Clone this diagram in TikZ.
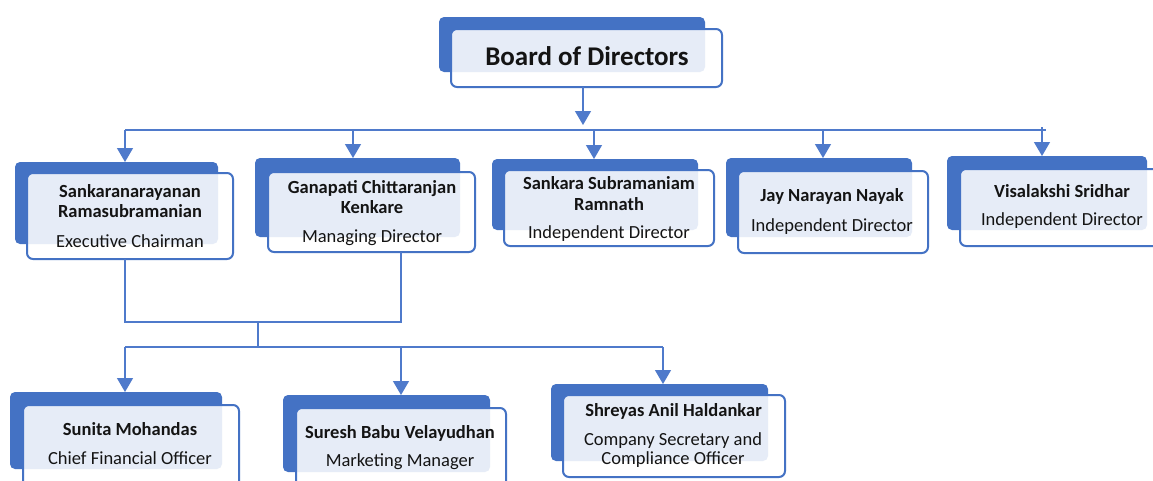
\documentclass[tikz,border=0pt]{standalone}
\usepackage{fontspec}
\setmainfont{Carlito}
\usetikzlibrary{arrows.meta}
\definecolor{obl}{HTML}{4472C4}
\definecolor{cbl}{HTML}{4F7ACB}
\definecolor{txt}{HTML}{141414}
\newcommand\obox[9]{%
  \node[backbox, minimum width={(#4)-(#2)}, minimum height={(#5)-(#3)}, anchor=north west] (#1b) at (#2,#3) {};
  \node[frontbox, minimum width={(#8)-(#6)}, minimum height={(#9)-(#7)}, anchor=north west] (#1) at (#6,#7) {};
}
\begin{document}
\begin{tikzpicture}[x=1pt,y=-1pt,
 backbox/.style={fill=obl, rounded corners=5pt, inner sep=0pt, outer sep=0pt},
 frontbox/.style={draw=obl, line width=2pt, fill=white, fill opacity=0.87, rounded corners=6pt, inner sep=0pt, outer sep=0pt},
 nm/.style={font=\fontsize{18.5}{20}\selectfont\bfseries, text=txt, anchor=base, inner sep=0pt},
 rl/.style={font=\fontsize{18.5}{20}\selectfont, text=txt, anchor=base, inner sep=0pt},
 conn/.style={draw=cbl, line width=1.3pt},
 arr/.style={conn, -{Triangle[width=16pt,length=14pt]}},
]
\useasboundingbox[fill=white] (0,0) rectangle (1153,480);

% boxes: name, back x1,y1,x2,y2, front x1,y1,x2,y2
\obox{bod}{439}{17}{705}{72}{451}{29}{722}{87}
\obox{c1}{15}{162}{218}{244}{27}{173}{233}{259}
\obox{c2}{255}{158}{460}{237}{268}{172}{475}{252}
\obox{c3}{492}{159}{698}{230}{504}{170}{714}{246}
\obox{c4}{726}{158}{912}{237}{738}{171}{928}{253}
\obox{c5}{947}{156}{1147}{230}{960}{169}{1164}{246}
\obox{d1}{10}{392}{222}{469}{23}{405}{239}{492}
\obox{d2}{283}{395}{490}{472}{296}{408}{506}{492}
\obox{d3}{551}{384}{768}{461}{563}{395}{785}{477}

% texts
\node[font=\fontsize{27}{30}\selectfont\bfseries, text=txt, anchor=base, inner sep=0pt] (bodt) at (587,65.5) {Board of Directors};
\node[nm] (c1n1) at (130,197.5) {Sankaranarayanan};
\node[nm] (c1n2) at (130,217.5) {Ramasubramanian};
\node[rl] (c1r) at (130,247) {Executive Chairman};
\node[nm] (c2n1) at (372,193) {Ganapati Chittaranjan};
\node[nm] (c2n2) at (372,213) {Kenkare};
\node[rl] (c2r) at (372,242) {Managing Director};
\node[nm] (c3n1) at (609,189) {Sankara Subramaniam};
\node[nm] (c3n2) at (609,210) {Ramnath};
\node[rl] (c3r) at (609,238) {Independent Director};
\node[nm] (c4n1) at (832,201) {Jay Narayan Nayak};
\node[rl] (c4r) at (832,231) {Independent Director};
\node[nm] (c5n1) at (1062,197.5) {Visalakshi Sridhar};
\node[rl] (c5r) at (1062,225) {Independent Director};
\node[nm] (d1n1) at (130,435) {Sunita Mohandas};
\node[rl] (d1r) at (130,464) {Chief Financial Officer};
\node[nm] (d2n1) at (400,438) {Suresh Babu Velayudhan};
\node[rl] (d2r) at (400,466) {Marketing Manager};
\node[nm] (d3n1) at (673.5,416.5) {Shreyas Anil Haldankar};
\node[rl] (d3r1) at (673,445) {Company Secretary and};
\node[rl] (d3r2) at (673,464) {Compliance Officer};

% top level connectors
\coordinate (ba) at (583,125);
\draw[arr] (ba |- bod.south) -- (ba);
\coordinate (busL) at (125,130);
\coordinate (busR) at (1046,130);
\draw[conn] (busL) -- (busR);
\coordinate (a1) at (125,130);
\coordinate (a2) at (353,130);
\coordinate (a3) at (594,130);
\coordinate (a4) at (823,130);
\coordinate (a5) at (1042,127);
\draw[arr] (a1) -- (a1 |- c1b.north);
\draw[arr] (a2) -- (a2 |- c2b.north);
\draw[arr] (a3) -- (a3 |- c3b.north);
\draw[arr] (a4) -- (a4 |- c4b.north);
\draw[arr] (a5) -- (a5 |- c5b.north);

% second level connectors
\coordinate (j1) at (125,322);
\coordinate (j2) at (401,322);
\coordinate (j3) at (258,322);
\coordinate (j4) at (258,347);
\draw[conn] (j1 |- c1.south) -- (j1) -- (j2) -- (j2 |- c2.south);
\draw[conn] (j3) -- (j4);
\coordinate (k1) at (125,347);
\coordinate (k2) at (401,347);
\coordinate (k3) at (663,347);
\draw[conn] (k1) -- (k3);
\draw[arr] (k1) -- (k1 |- d1b.north);
\draw[arr] (k2) -- (k2 |- d2b.north);
\draw[arr] (k3) -- (k3 |- d3b.north);
\end{tikzpicture}
\end{document}
